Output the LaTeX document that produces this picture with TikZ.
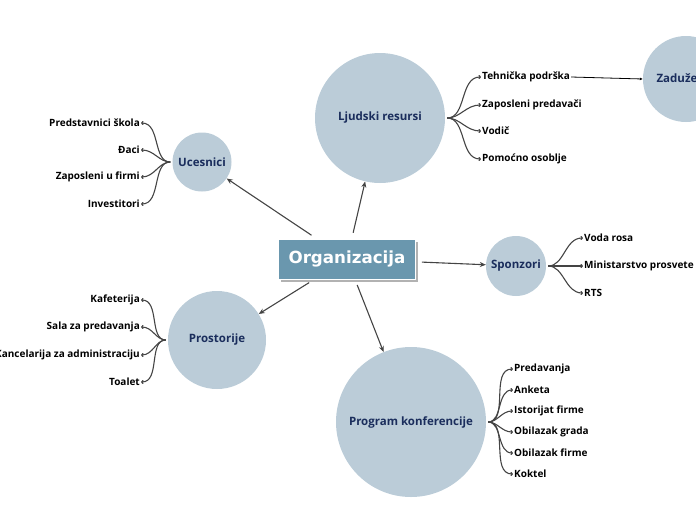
\documentclass[tikz,border=0pt]{standalone}
\usepackage{fontspec}
\setmainfont{Open Sans}
\newfontfamily\titlefont{DejaVu Sans}
\usetikzlibrary{arrows.meta,shadows}
\definecolor{bubble}{HTML}{BBCCD8}
\definecolor{navy}{HTML}{1A2D5C}
\definecolor{boxblue}{HTML}{6A97AE}
\definecolor{wire}{HTML}{444444}
\tikzset{
  topic/.style={circle,fill=bubble,text=navy,font=\bfseries\fontsize{11.5}{13}\selectfont,inner sep=0pt},
  leaf/.style={font=\bfseries\fontsize{10}{12}\selectfont,inner sep=1pt},
  mainarrow/.style={draw=wire,line width=1.1pt,-{Stealth[length=6pt,width=5pt]},shorten <=6pt},
  twig/.style={draw=wire,line width=1.1pt,-{To[length=2.5pt,width=4pt]},shorten <=2pt}
}
\begin{document}
\begin{tikzpicture}[x=1pt,y=-1pt]
\useasboundingbox (0,0) rectangle (696,520);
\begin{scope}
\node[topic,minimum size=59pt] (uc) at (202,162) {Ucesnici};
\node[topic,minimum size=130pt] (lr) at (380,118) {Ljudski resursi};
\node[topic,minimum size=86pt] (zad) at (686,79) {Zaduženja};
\node[topic,minimum size=60pt] (sp) at (516,266) {Sponzori};
\node[topic,minimum size=98pt] (pr) at (217,340) {Prostorije};
\node[topic,minimum size=150pt] (pk) at (411,422) {Program konferencije};
\node[fill=boxblue,draw=white,line width=0.8pt,text=white,minimum width=137pt,minimum height=40pt,
  font=\titlefont\bfseries\fontsize{16.7}{19}\selectfont,
  drop shadow={shadow xshift=2.5pt,shadow yshift=-2.5pt,fill=gray!60,opacity=1}] (org) at (347,259) {Organizacija};
\end{scope}
\begin{scope}
\node[leaf,anchor=east] (uc1) at (141,123) {Predstavnici škola};
\node[leaf,anchor=east] (uc2) at (141,150) {Đaci};
\node[leaf,anchor=east] (uc3) at (141,177) {Zaposleni u firmi};
\node[leaf,anchor=east] (uc4) at (141,204) {Investitori};
\node[leaf,anchor=west] (lr1) at (481,77) {Tehnička podrška};
\node[leaf,anchor=west] (lr2) at (481,105) {Zaposleni predavači};
\node[leaf,anchor=west] (lr3) at (481,131) {Vodič};
\node[leaf,anchor=west] (lr4) at (481,159) {Pomoćno osoblje};
\node[leaf,anchor=west] (sp1) at (583,238) {Voda rosa};
\node[leaf,anchor=west] (sp2) at (583,266) {Ministarstvo prosvete};
\node[leaf,anchor=west] (sp3) at (583,293) {RTS};
\node[leaf,anchor=east] (pr1) at (141,300) {Kafeterija};
\node[leaf,anchor=east] (pr2) at (141,327) {Sala za predavanja};
\node[leaf,anchor=east] (pr3) at (141,355) {Kancelarija za administraciju};
\node[leaf,anchor=east] (pr4) at (141,382) {Toalet};
\node[leaf,anchor=west] (pk1) at (513,369) {Predavanja};
\node[leaf,anchor=west] (pk2) at (513,390) {Anketa};
\node[leaf,anchor=west] (pk3) at (513,411) {Istorijat firme};
\node[leaf,anchor=west] (pk4) at (513,432) {Obilazak grada};
\node[leaf,anchor=west] (pk5) at (513,453) {Obilazak firme};
\node[leaf,anchor=west] (pk6) at (513,474) {Koktel};
\end{scope}
\begin{scope}
\draw[mainarrow] (org) -- (uc);
\draw[mainarrow] (org) -- (lr);
\draw[mainarrow] (org) -- (sp);
\draw[mainarrow] (org) -- (pr);
\draw[mainarrow] (org) -- (pk);
\foreach \n in {uc1,uc2,uc3,uc4} \draw[twig] (uc.west) to[out=180,in=0] (\n.east);
\foreach \n in {pr1,pr2,pr3,pr4} \draw[twig] (pr.west) to[out=180,in=0] (\n.east);
\foreach \n in {lr1,lr2,lr3,lr4} \draw[twig] (lr.east) to[out=0,in=180] (\n.west);
\foreach \n in {sp1,sp2,sp3} \draw[twig] (sp.east) to[out=0,in=180] (\n.west);
\foreach \n in {pk1,pk2,pk3,pk4,pk5,pk6} \draw[twig] (pk.east) to[out=0,in=180] (\n.west);
\draw[line width=0.8pt,-{Latex[length=3pt,width=3pt]}] (lr1.east) -- (zad.west);
\end{scope}
\end{tikzpicture}
\end{document}
